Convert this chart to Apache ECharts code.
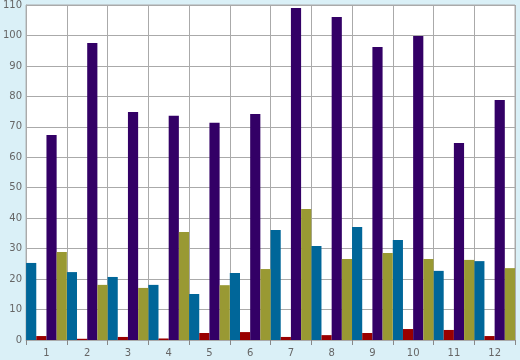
<!DOCTYPE html>
<html>
<head>
<meta charset="utf-8">
<script src="https://cdn.jsdelivr.net/npm/echarts@6/dist/echarts.min.js"></script>
<style>
html,body{margin:0;padding:0;background:#daf0f7;}
#c{width:520px;height:360px;}
</style>
</head>
<body>
<div id="c"></div>
<script>
var categories = ['1','2','3','4','5','6','7','8','9','10','11','12'];
var seriesTeal   = [25.3, 22.3, 20.7, 18.1, 15.1, 22.0, 36.1, 30.9, 37.1, 32.8, 22.7, 25.9];
var seriesRed    = [1.3, 0.4, 1.0, 0.5, 2.3, 2.6, 1.0, 1.6, 2.3, 3.6, 3.3, 1.3];
var seriesPurple = [67.3, 97.5, 74.9, 73.6, 71.3, 74.2, 109.0, 106.1, 96.2, 99.8, 64.7, 78.8];
var seriesOlive  = [28.9, 18.1, 17.1, 35.5, 18.0, 23.3, 43.0, 26.6, 28.6, 26.6, 26.3, 23.6];
var yTicks = {min: 0, max: 110, interval: 10};

var chart = echarts.init(document.getElementById('c'), null, {renderer: 'canvas'});
var font = {fontFamily: 'DejaVu Sans', fontSize: 10, color: '#666'};
function bar(name, data, color) {
  return {name: name, type: 'bar', data: data, barGap: '0%', barCategoryGap: '0%',
          itemStyle: {color: color}, animation: false};
}
chart.setOption({
  backgroundColor: '#daf0f7',
  animation: false,
  grid: {left: 26, right: 5, top: 5, bottom: 20, show: true, backgroundColor: '#fff', borderColor: '#aaa', borderWidth: 1},
  xAxis: {
    type: 'category', data: categories, boundaryGap: true,
    axisLine: {show: true, lineStyle: {color: '#aaa', width: 1}},
    axisTick: {show: true, length: 5, lineStyle: {color: '#888'}},
    splitLine: {show: true, lineStyle: {color: '#aaa', width: 1}},
    axisLabel: Object.assign({margin: 8}, font)
  },
  yAxis: {
    type: 'value', min: yTicks.min, max: yTicks.max, interval: yTicks.interval,
    axisLine: {show: true, lineStyle: {color: '#aaa'}},
    axisTick: {show: false},
    splitLine: {show: true, lineStyle: {color: '#aaa', width: 1}},
    axisLabel: Object.assign({margin: 4}, font)
  },
  series: [
    bar('A', seriesTeal, '#006699'),
    bar('B', seriesRed, '#990000'),
    bar('C', seriesPurple, '#330066'),
    bar('D', seriesOlive, '#999933')
  ]
});
</script>
</body>
</html>
